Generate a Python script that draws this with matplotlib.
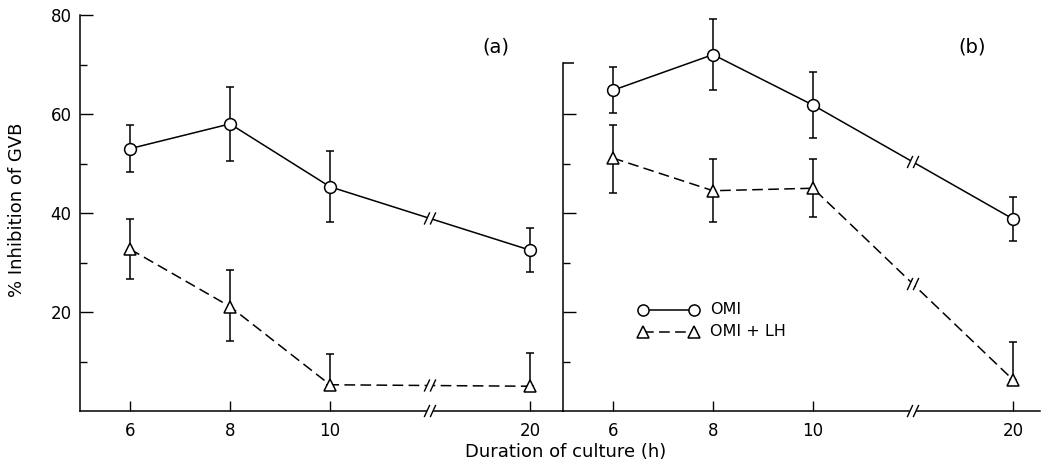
import numpy as np
import matplotlib
matplotlib.use("Agg")
from matplotlib import pyplot as plt
from matplotlib.lines import Line2D

plt.rcParams['font.family'] = ['DejaVu Sans']

hours = [6, 8, 10, 20]
tick_labels = ['6', '8', '10', '20']

# panel (a)
a_omi = [53, 58, 45.3, 32.5]
a_omi_err = [4.7, 7.4, 7.2, 4.5]
a_lh = [32.7, 21.1, 5.3, 5.0]
a_lh_lo = [6.1, 7.0, 0, 0]
a_lh_hi = [6.1, 7.4, 6.3, 6.8]

# panel (b)
b_omi = [64.8, 72.0, 61.8, 38.8]
b_omi_err = [4.6, 7.2, 6.6, 4.5]
b_lh = [51.1, 44.5, 45.0, 6.3]
b_lh_lo = [7.0, 6.4, 5.8, 0]
b_lh_hi = [6.6, 6.5, 6.0, 7.6]


def xpos(h):
    # broken axis: hours above 10 are squeezed
    h = np.asarray(h, dtype=float)
    return np.where(h > 10, 10 + (h - 10) * 0.4, h)


def slashes(ax, x0, y0, gap=True):
    # two short "//" marks at (x0, y0)
    if gap:
        ax.plot([x0 - 0.06, x0 + 0.06], [y0, y0], color='white', lw=3,
                zorder=4, clip_on=False, solid_capstyle='butt')
    for dx in (-0.06, 0.06):
        ax.plot([x0 + dx - 0.05, x0 + dx + 0.05], [y0 - 1.1, y0 + 1.1],
                color='black', lw=1.0, zorder=5, clip_on=False)


def draw_series(ax, vals, lo, hi, marker, ls):
    x = xpos(hours)
    y = np.asarray(vals)
    ax.errorbar(x, y, yerr=[lo, hi], fmt='none', ecolor='black',
                elinewidth=1.1, capsize=2.8, capthick=1.1, zorder=2)
    ax.plot(x, y, color='black', lw=1.1, linestyle=ls, zorder=3)
    xm = 12
    ym = np.interp(xm, x[2:], y[2:])
    slashes(ax, xm, ym)
    ax.plot(x, y, linestyle='none', marker=marker, markersize=8.5,
            markerfacecolor='white', markeredgecolor='black',
            markeredgewidth=1.1, zorder=6)


fig = plt.figure(figsize=(10.44, 4.63), dpi=100)
W, H = 1044, 463
ax1 = fig.add_axes([80 / W, 52 / H, 483 / W, 396 / H])
ax2 = fig.add_axes([563 / W, 52 / H, 477 / W, 396 / H])

dash = (0, (7, 3.5))
draw_series(ax1, a_omi, a_omi_err, a_omi_err, 'o', '-')
draw_series(ax1, a_lh, a_lh_lo, a_lh_hi, '^', dash)
draw_series(ax2, b_omi, b_omi_err, b_omi_err, 'o', '-')
draw_series(ax2, b_lh, b_lh_lo, b_lh_hi, '^', dash)

for ax, right in ((ax1, 14.66), (ax2, 14.54)):
    ax.set_xlim(5, right)
    ax.set_ylim(0, 80)
    ax.spines['top'].set_visible(False)
    ax.spines['right'].set_visible(False)
    for s in ax.spines.values():
        s.set_linewidth(1.1)
    ax.set_xticks(xpos(hours))
    ax.set_xticklabels(tick_labels, fontsize=12)
    ax.tick_params(axis='x', direction='in', length=7.5, width=1.0, pad=8)
    ax.set_yticks([20, 40, 60, 80] if ax is ax1 else [20, 40, 60])
    ax.set_yticks([10, 30, 50, 70] if ax is ax1 else [10, 30, 50], minor=True)
    ax.tick_params(axis='y', which='major', direction='in', length=9.5,
                   width=1.0, pad=6, labelsize=12)
    ax.tick_params(axis='y', which='minor', direction='in', length=5,
                   width=1.0)
    slashes(ax, 12, 0)

ax2.tick_params(axis='y', labelleft=False)
ax2.spines['left'].set_bounds(0, 70.3)
ax2.plot([5, 5.22], [70.3, 70.3], color='black', lw=1.1, clip_on=False,
         solid_capstyle='butt')

ax1.text(0.86, 0.92, '(a)', transform=ax1.transAxes, fontsize=14,
         ha='center', va='center')
ax2.text(0.857, 0.92, '(b)', transform=ax2.transAxes, fontsize=14,
         ha='center', va='center')

# legend drawn by hand
for row, (lbl, mk, ls) in enumerate((('OMI', 'o', '-'),
                                     ('OMI + LH', '^', dash))):
    yy = 1 - (310 + 22 * row) / H
    x0, x1 = 643 / W, 694 / W
    fig.add_artist(Line2D([x0, x1], [yy, yy], color='black', lw=1.1,
                          linestyle=ls))
    fig.add_artist(Line2D([x0, x1], [yy, yy], linestyle='none', marker=mk,
                          markersize=8, markerfacecolor='white',
                          markeredgecolor='black', markeredgewidth=1.1))
    fig.text(710 / W, yy, lbl, fontsize=11.5, va='center', ha='left')

fig.text(17 / W, 1 - 210 / H, '% Inhibition of GVB', rotation=90,
         fontsize=13, ha='center', va='center')
fig.text(566 / W, 1 - 452 / H, 'Duration of culture (h)', fontsize=13,
         ha='center', va='center')

fig.savefig('out.png', dpi=100)
